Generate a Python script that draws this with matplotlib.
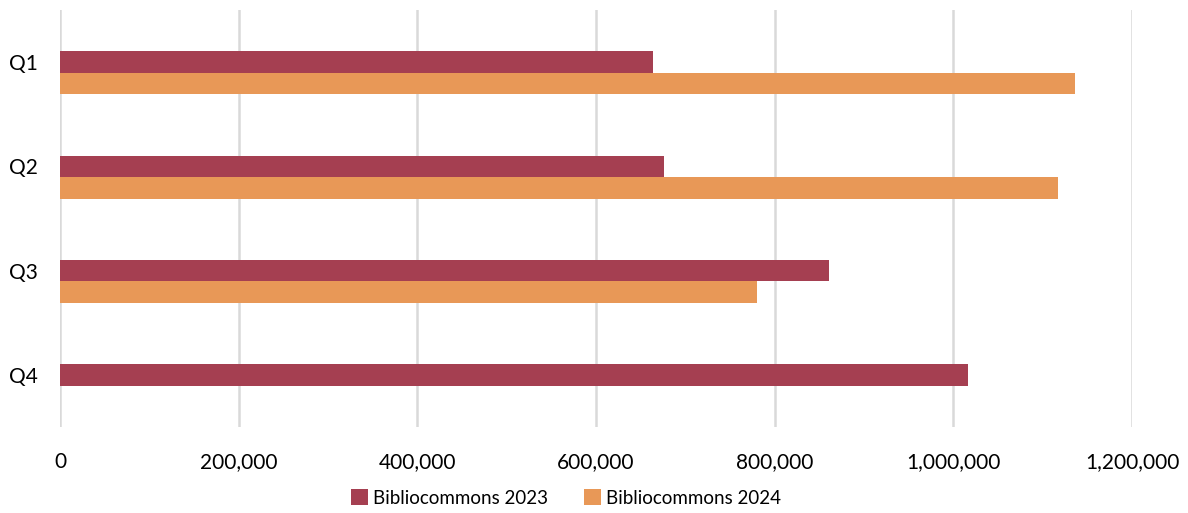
import matplotlib
matplotlib.use("Agg")
import matplotlib.pyplot as plt
import numpy as np
from matplotlib.ticker import FuncFormatter

quarters = ["Q1", "Q2", "Q3", "Q4"]
series_names = ["Bibliocommons 2023", "Bibliocommons 2024"]
values_2023 = [664000, 676000, 861000, 1016000]
values_2024 = [1136000, 1117000, 780000, 0]
colors = ["#A53F51", "#E89857"]
x_ticks = [0, 200000, 400000, 600000, 800000, 1000000, 1200000]

plt.rcParams["font.family"] = ["Lato", "DejaVu Sans"]

fig = plt.figure(figsize=(11.88, 5.13), dpi=100)
ax = fig.add_axes([0.0505, 0.1676, 0.9025, 0.8129])

pos = np.arange(len(quarters))
h = 0.206
ax.barh(pos, values_2023, height=h, color=colors[0], label=series_names[0], zorder=3)
ax.barh(pos + h, values_2024, height=h, color=colors[1], label=series_names[1], zorder=3)

ax.set_ylim(len(quarters) - 0.5, -0.5)
ax.set_xlim(0, 1200000)
ax.set_yticks(pos)
ax.set_yticklabels(quarters)
ax.set_xticks(x_ticks)
ax.xaxis.set_major_formatter(FuncFormatter(lambda v, p: f"{int(v):,}"))

ax.grid(axis="x", color="#D9D9D9", linewidth=1.8, zorder=0)
for s in ax.spines.values():
    s.set_visible(False)
ax.tick_params(axis="both", length=0, labelsize=15, colors="#000000")
ax.tick_params(axis="x", pad=18)
ax.tick_params(axis="y", pad=16)

fig.legend(loc="center", bbox_to_anchor=(566 / 1188, 1 - 498 / 513), ncol=2,
           frameon=False, fontsize=13.5, handlelength=0.9, handleheight=0.9,
           handletextpad=0.3, columnspacing=1.9, borderaxespad=0)

fig.savefig("out.png", dpi=100)
